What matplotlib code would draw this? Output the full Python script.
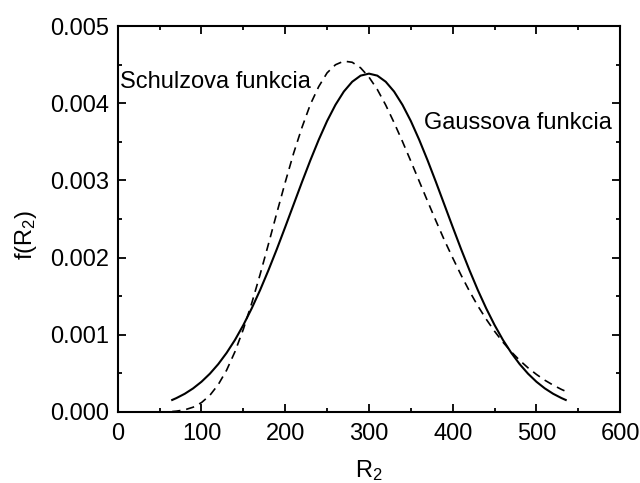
import matplotlib
matplotlib.use('Agg')
import matplotlib.pyplot as plt
from matplotlib.ticker import MultipleLocator

plt.rcParams['font.family'] = ['Liberation Sans', 'DejaVu Sans']
plt.rcParams['mathtext.fontset'] = 'custom'
plt.rcParams['mathtext.rm'] = 'Liberation Sans'
plt.rcParams['mathtext.it'] = 'Liberation Sans'
plt.rcParams['font.size'] = 17

# Gaussova funkcia (solid)
r_gauss = [65, 70, 80, 90, 100, 110, 120, 130, 140, 150, 160, 170, 180, 190, 200,
           210, 220, 230, 240, 250, 260, 270, 280, 290, 300,
           310, 320, 330, 340, 350, 360, 370, 380, 390, 400, 410, 420, 430, 440,
           450, 460, 470, 480, 490, 500, 510, 520, 530, 535]
f_gauss = [0.000156, 0.000180, 0.000236, 0.000306, 0.000392, 0.000496, 0.000620,
           0.000766, 0.000934, 0.001127, 0.001343, 0.001580, 0.001838, 0.002111,
           0.002397, 0.002688, 0.002979, 0.003261, 0.003527, 0.003770, 0.003980,
           0.004152, 0.004279, 0.004358, 0.004384,
           0.004358, 0.004279, 0.004152, 0.003980, 0.003770, 0.003527, 0.003261,
           0.002979, 0.002688, 0.002397, 0.002111, 0.001838, 0.001580, 0.001343,
           0.001127, 0.000934, 0.000766, 0.000620, 0.000496, 0.000392, 0.000306,
           0.000236, 0.000180, 0.000156]

# Schulzova funkcia (dashed)
r_schulz = [65, 70, 80, 90, 100, 110, 120, 130, 140, 150, 160, 170, 180, 190, 200,
            210, 220, 230, 240, 250, 260, 270, 280, 290, 300,
            310, 320, 330, 340, 350, 360, 370, 380, 390, 400, 410, 420, 430, 440,
            450, 460, 470, 480, 490, 500, 510, 520, 530, 535]
f_schulz = [0.0000063, 0.0000109, 0.0000281, 0.0000622, 0.000122, 0.000216, 0.000355,
            0.000542, 0.000782, 0.001073, 0.001410, 0.001782, 0.002177, 0.002581,
            0.002976, 0.003352, 0.003687, 0.003985, 0.004216, 0.004394, 0.004499,
            0.004546, 0.004531, 0.004459, 0.004339,
            0.004178, 0.003977, 0.003749, 0.003505, 0.003250, 0.002990, 0.002731,
            0.002476, 0.002228, 0.001997, 0.001774, 0.001566, 0.001375, 0.001203,
            0.001046, 0.000905, 0.000780, 0.000669, 0.000572, 0.000487, 0.000412,
            0.000348, 0.000292, 0.000268]

fig = plt.figure(figsize=(6.4, 4.83), dpi=100)
ax = fig.add_axes([0.184, 0.147, 0.785, 0.799])

ax.plot(r_gauss, f_gauss, color='black', lw=1.5)
ax.plot(r_schulz, f_schulz, color='black', lw=1.2, dashes=(5, 3.5))

ax.text(3, 0.0042, 'Schulzova funkcia', ha='left', va='baseline')
ax.text(366, 0.00367, 'Gaussova funkcia', ha='left', va='baseline')

ax.set_xlim(0, 600)
ax.set_ylim(0, 0.005)
ax.xaxis.set_major_locator(MultipleLocator(100))
ax.xaxis.set_minor_locator(MultipleLocator(50))
ax.yaxis.set_major_locator(MultipleLocator(0.001))
ax.yaxis.set_minor_locator(MultipleLocator(0.0005))
ax.yaxis.set_major_formatter(plt.FormatStrFormatter('%.3f'))

ax.tick_params(which='both', direction='in', top=True, right=True, width=1.3)
ax.tick_params(which='major', length=5.5)
ax.tick_params(which='minor', length=3)
ax.tick_params(axis='x', which='major', pad=8)
ax.tick_params(axis='y', which='major', pad=6)
for s in ax.spines.values():
    s.set_linewidth(1.5)

ax.set_xlabel(r'R$_2$', labelpad=9)
ax.set_ylabel(r'f(R$_2$)', labelpad=8)
ax.yaxis.label.set_y(0.46)

fig.savefig('out.png', dpi=100)
